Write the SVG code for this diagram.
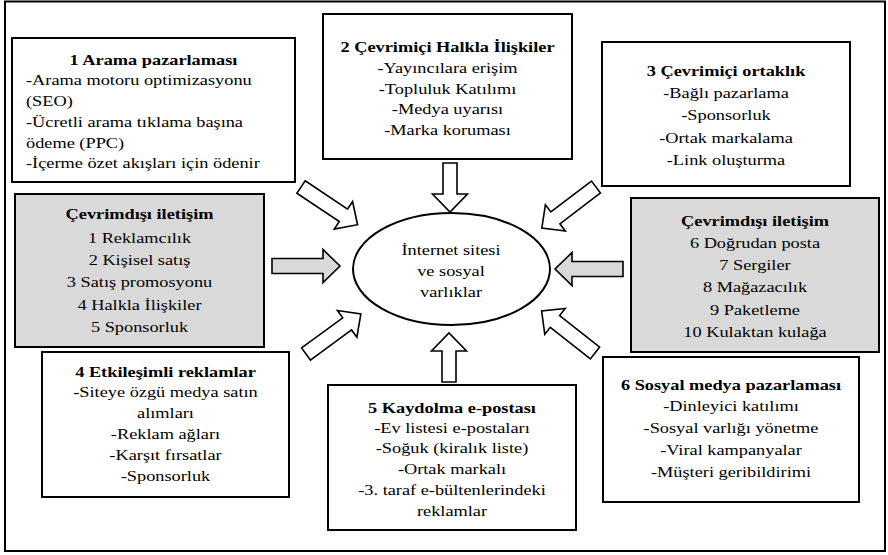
<svg xmlns="http://www.w3.org/2000/svg" xmlns:xlink="http://www.w3.org/1999/xlink" width="888" height="555" viewBox="0 0 888 555">
<style>
.box{fill:#fff;stroke:#000;stroke-width:2}
.gray{fill:#d9d9d9;stroke:#000;stroke-width:2}
text{font-family:'Liberation Serif','Times New Roman',Times,serif;font-size:14.2px;fill:#000;text-anchor:middle}
.l{text-anchor:start}
.b{font-weight:bold}
.arr{fill:#fff;stroke:#000;stroke-width:1.6;stroke-linejoin:miter}
.arrg{fill:#d9d9d9;stroke:#000;stroke-width:1.6;stroke-linejoin:miter}
</style>
<defs>
<path id="aLong" d="M0,-7.5 H51 V-16.5 L68,0 L51,16.5 V7.5 H0 Z"/>
<path id="aShort" d="M0,-7 H31 V-17.5 L49,0 L31,17.5 V7 H0 Z"/>
</defs>
<rect x="5" y="1.5" width="880" height="549.5" fill="#fff" stroke="#000" stroke-width="2"/>

<g id="connectors">
<use xlink:href="#aLong" class="arr" transform="translate(301,187) rotate(33.7)"/>
<use xlink:href="#aLong" class="arr" transform="translate(596,187) rotate(142.8)"/>
<use xlink:href="#aLong" class="arr" transform="translate(306,354) rotate(-36.2)"/>
<use xlink:href="#aLong" class="arr" transform="translate(595,353) rotate(-141.7)"/>
<use xlink:href="#aLong" class="arrg" transform="translate(272,266)"/>
<use xlink:href="#aLong" class="arrg" transform="translate(623,269) rotate(180)"/>
<use xlink:href="#aShort" class="arr" transform="translate(450,163) rotate(90)"/>
<use xlink:href="#aShort" class="arr" transform="translate(449,382) rotate(-90)"/>
</g>

<g id="center" font-family="Liberation Serif, serif">
<ellipse cx="451.5" cy="269" rx="98.5" ry="56" fill="#fff" stroke="#000" stroke-width="2"/>
<g transform="matrix(1.29 0 0 1 451 0)">
<text y="255">İnternet sitesi</text>
<text y="276">ve sosyal</text>
<text y="297">varlıklar</text>
</g>
</g>

<g id="n1" font-family="Liberation Serif, serif">
<rect class="box" x="12" y="38" width="283" height="144"/>
<text class="b" transform="matrix(1.29 0 0 1 153.5 0)" y="65">1 Arama pazarlaması</text>
<g transform="matrix(1.29 0 0 1 26 0)">
<text class="l" y="85.5">-Arama motoru optimizasyonu</text>
<text class="l" y="106">(SEO)</text>
<text class="l" y="127">-Ücretli arama tıklama başına</text>
<text class="l" y="148">ödeme (PPC)</text>
<text class="l" y="168.5">-İçerme özet akışları için ödenir</text>
</g>
</g>

<g id="n2" font-family="Liberation Serif, serif">
<rect class="box" x="323" y="14" width="249" height="145"/>
<g transform="matrix(1.29 0 0 1 447.5 0)">
<text class="b" y="52">2 Çevrimiçi Halkla İlişkiler</text>
<text y="73">-Yayıncılara erişim</text>
<text y="94">-Topluluk Katılımı</text>
<text y="114">-Medya uyarısı</text>
<text y="135">-Marka koruması</text>
</g>
</g>

<g id="n3" font-family="Liberation Serif, serif">
<rect class="box" x="602" y="42" width="248" height="144"/>
<g transform="matrix(1.29 0 0 1 726 0)">
<text class="b" y="76">3 Çevrimiçi ortaklık</text>
<text y="98">-Bağlı pazarlama</text>
<text y="120">-Sponsorluk</text>
<text y="143">-Ortak markalama</text>
<text y="165">-Link oluşturma</text>
</g>
</g>

<g id="offline1" font-family="Liberation Serif, serif">
<rect class="gray" x="15" y="194" width="249" height="153"/>
<g transform="matrix(1.29 0 0 1 139.5 0)">
<text class="b" y="219">Çevrimdışı iletişim</text>
<text y="243">1 Reklamcılık</text>
<text y="265">2 Kişisel satış</text>
<text y="287.5">3 Satış promosyonu</text>
<text y="310">4 Halkla İlişkiler</text>
<text y="332">5 Sponsorluk</text>
</g>
</g>

<g id="offline2" font-family="Liberation Serif, serif">
<rect class="gray" x="631" y="198" width="248" height="154"/>
<g transform="matrix(1.29 0 0 1 755 0)">
<text class="b" y="226">Çevrimdışı iletişim</text>
<text y="248">6 Doğrudan posta</text>
<text y="270.5">7 Sergiler</text>
<text y="292.5">8 Mağazacılık</text>
<text y="315">9 Paketleme</text>
<text y="337">10 Kulaktan kulağa</text>
</g>
</g>

<g id="n4" font-family="Liberation Serif, serif">
<rect class="box" x="42" y="352" width="247" height="145"/>
<g transform="matrix(1.29 0 0 1 165.5 0)">
<text class="b" y="377">4 Etkileşimli reklamlar</text>
<text y="397.5">-Siteye özgü medya satın</text>
<text y="418">alımları</text>
<text y="439">-Reklam ağları</text>
<text y="460">-Karşıt fırsatlar</text>
<text y="481">-Sponsorluk</text>
</g>
</g>

<g id="n5" font-family="Liberation Serif, serif">
<rect class="box" x="328" y="385" width="248" height="145"/>
<g transform="matrix(1.29 0 0 1 452 0)">
<text class="b" y="413">5 Kaydolma e-postası</text>
<text y="433">-Ev listesi e-postaları</text>
<text y="453.5">-Soğuk (kiralık liste)</text>
<text y="474">-Ortak markalı</text>
<text y="495">-3. taraf e-bültenlerindeki</text>
<text y="516">reklamlar</text>
</g>
</g>

<g id="n6" font-family="Liberation Serif, serif">
<rect class="box" x="603" y="357" width="256" height="145"/>
<g transform="matrix(1.29 0 0 1 731 0)">
<text class="b" y="390">6 Sosyal medya pazarlaması</text>
<text y="411.5">-Dinleyici katılımı</text>
<text y="433.5">-Sosyal varlığı yönetme</text>
<text y="455">-Viral kampanyalar</text>
<text y="477">-Müşteri geribildirimi</text>
</g>
</g>
</svg>
